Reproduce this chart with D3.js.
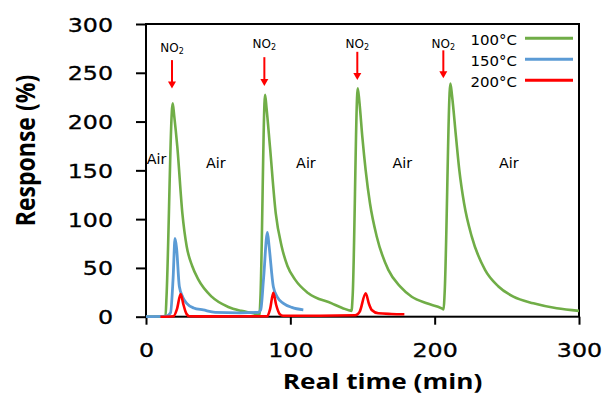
<!DOCTYPE html>
<html>
<head>
<meta charset="utf-8">
<script src="https://cdn.jsdelivr.net/npm/d3@7"></script>
<style>
  html, body { margin: 0; padding: 0; background: #fff; }
  svg { display: block; }
</style>
</head>
<body>
<div id="chart"></div>
<script>
// series: time (min) / response (%)
const t100 = [0, 13.5, 14.2, 18.5, 19.6, 21.7, 25.2, 28.2, 32, 36.3, 45.5, 57, 66, 74.4, 78.6,
  79.3, 82.5, 83.5, 85.9, 89.9, 94, 98, 103.3, 112.5, 128.7, 136, 142.4,
  143.2, 146.7, 147.8, 149.9, 152.2, 155.2, 159.9, 167.9, 176, 184.1, 194.5, 204.9, 206.2,
  206.9, 210.9, 212, 214.8, 217.1, 220.4, 225.7, 234.9, 244.2, 254.5, 268.4, 284.6, 300];
const v100 = [0, 0, 20, 218.6, 205, 174, 106, 72, 52, 38, 20.5, 10, 6, 3.5, 2,
  20, 227.5, 214, 174, 106, 72, 52, 38, 24, 13.7, 9, 6,
  22, 234, 221, 184, 150, 116, 82, 48, 31, 20.5, 13.7, 8.6, 7.5,
  24, 239, 227, 184, 150, 116, 82, 48, 31, 20.5, 13.7, 8.6, 6];

const t150 = [0, 14, 17, 18.8, 20.1, 21.2, 23.1, 25.5, 28.2, 33, 39.7, 48, 65, 77.8,
  79.5, 81.5, 84.1, 85.3, 88.2, 91, 95.2, 101, 109];
const v150 = [0, 0.5, 4, 40, 80.3, 70, 31, 20, 13.7, 9, 6.9, 4.5, 4, 4.5,
  7, 40, 86.5, 72, 31, 20, 13.7, 9.5, 7];

const t200 = [10, 19, 21.5, 24, 26, 28, 30, 50, 84, 86, 88.2, 90.2, 92.5, 95, 120,
  145, 148, 152.2, 154.5, 156.4, 161, 170, 179];
const v200 = [0, 0.5, 8, 23.3, 12, 3, 0.5, 0.3, 0.5, 8, 24.6, 12, 3, 1, 1,
  1.5, 5, 24, 13, 6.9, 3.5, 2.8, 2.5];

const xTicks = [0, 100, 200, 300];
const yTicks = [0, 50, 100, 150, 200, 250, 300];

const seriesNames = ["100°C", "150°C", "200°C"];
const seriesColors = ["#70AD47", "#5B9BD5", "#FF0000"];

// annotations in data coords
const gasT = [18, 82, 146.4, 206];
const gasLabelV = [271, 275, 275, 275];
const arrowTopV = [263, 266, 271.5, 273];
const arrowTipV = [234, 236.4, 242.5, 244.3];
const airT = [0.5, 41.6, 104, 170.7, 244.6];
const airV = [157, 152, 152, 152.3, 152.6];

const width = 606, height = 394;
const margin = { top: 24, right: 27, bottom: 77.3, left: 146 };

const svg = d3.select("#chart").append("svg")
  .attr("width", width)
  .attr("height", height);

const x = d3.scaleLinear().domain([0, 300]).range([margin.left, width - margin.right]);
const y = d3.scaleLinear().domain([0, 300]).range([height - margin.bottom, margin.top]);

// stretched text helper
function place(sel, px, py, k) {
  sel.attr("x", 0).attr("y", 0)
    .attr("transform", `translate(${px},${py}) scale(${k},1)`);
}

// frame
svg.append("rect")
  .attr("x", x(0)).attr("y", y(300))
  .attr("width", x(300) - x(0)).attr("height", y(0) - y(300))
  .attr("fill", "none").attr("stroke", "#000").attr("stroke-width", 2);

// axes
const yAxis = svg.append("g")
  .attr("transform", `translate(${x(0)},0)`)
  .call(d3.axisLeft(y).tickValues(yTicks).tickSize(10).tickSizeOuter(0));
yAxis.select(".domain").remove();
yAxis.selectAll("line").attr("stroke", "#000").attr("stroke-width", 2);
yAxis.selectAll("text")
  .attr("dy", null)
  .attr("text-anchor", "end")
  .attr("font-family", "DejaVu Sans")
  .attr("font-size", 19)
  .attr("fill", "#000")
  .attr("stroke", "#000").attr("stroke-width", 0.3)
  .attr("x", 0).attr("y", 0)
  .attr("transform", "translate(-33,7) scale(1.25,1)");

const xAxis = svg.append("g")
  .attr("transform", `translate(0,${y(0)})`)
  .call(d3.axisBottom(x).tickValues(xTicks).tickSize(8).tickSizeOuter(0));
xAxis.select(".domain").remove();
xAxis.selectAll("line").attr("stroke", "#000").attr("stroke-width", 2);
xAxis.selectAll("text")
  .attr("dy", null)
  .attr("text-anchor", "middle")
  .attr("font-family", "DejaVu Sans")
  .attr("font-size", 19)
  .attr("fill", "#000")
  .attr("stroke", "#000").attr("stroke-width", 0.3)
  .attr("x", 0).attr("y", 0)
  .attr("transform", "translate(0,40) scale(1.25,1)");

// axis titles
svg.append("text")
  .attr("text-anchor", "middle")
  .attr("font-family", "Open Sans")
  .attr("font-weight", "bold")
  .attr("font-size", 21.5)
  .text("Real time (min)")
  .call(place, 382.5, 388.5, 1.22);

svg.append("text")
  .attr("text-anchor", "middle")
  .attr("font-family", "Open Sans")
  .attr("font-weight", "bold")
  .attr("font-size", 23)
  .attr("x", 0).attr("y", 0)
  .attr("transform", "translate(35,150.5) scale(1.2,1) rotate(-90)")
  .text("Response (%)");

// lines
const line = d3.line()
  .x(d => x(d[0]))
  .y(d => y(d[1]))
  .curve(d3.curveMonotoneX);

const series = [
  d3.zip(t100, v100),
  d3.zip(t150, v150),
  d3.zip(t200, v200)
];
const widths = [2.6, 2.8, 2.6];

svg.append("g").selectAll("path")
  .data(series)
  .join("path")
  .attr("fill", "none")
  .attr("stroke", (_, i) => seriesColors[i])
  .attr("stroke-width", (_, i) => widths[i])
  .attr("stroke-linejoin", "round")
  .attr("d", line);

// NO2 labels and arrows
const gas = svg.append("g");
gasT.forEach((t, i) => {
  const lbl = gas.append("text")
    .attr("x", x(t)).attr("y", y(gasLabelV[i]))
    .attr("text-anchor", "middle")
    .attr("font-family", "DejaVu Sans")
    .attr("font-size", 12)
    .attr("fill", "#000");
  lbl.append("tspan").text("NO");
  lbl.append("tspan").attr("font-size", 8).attr("dy", 2).text("2");

  const top = y(arrowTopV[i]), tip = y(arrowTipV[i]);
  gas.append("line")
    .attr("x1", x(t)).attr("x2", x(t))
    .attr("y1", top).attr("y2", tip - 6)
    .attr("stroke", "#FF0000").attr("stroke-width", 2);
  gas.append("path")
    .attr("d", `M${x(t) - 4},${tip - 7}L${x(t) + 4},${tip - 7}L${x(t)},${tip}Z`)
    .attr("fill", "#FF0000");
});

// Air labels
svg.append("g").selectAll("text")
  .data(airT)
  .join("text")
  .attr("font-family", "DejaVu Sans")
  .attr("font-size", 13.5)
  .attr("fill", "#000")
  .text("Air")
  .each(function (t, i) {
    d3.select(this).call(place, x(t), y(airV[i]), 1.06);
  });

// legend
const legend = svg.append("g");
seriesNames.forEach((name, i) => {
  const ly = 38.3 + i * 21;
  legend.append("line")
    .attr("x1", 525).attr("x2", 573)
    .attr("y1", ly).attr("y2", ly)
    .attr("stroke", seriesColors[i]).attr("stroke-width", 3);
  legend.append("text")
    .attr("text-anchor", "end")
    .attr("font-family", "DejaVu Sans")
    .attr("font-size", 14)
    .attr("fill", "#000")
    .text(name)
    .call(place, 517, ly + 7, 1.07);
});
</script>
</body>
</html>
